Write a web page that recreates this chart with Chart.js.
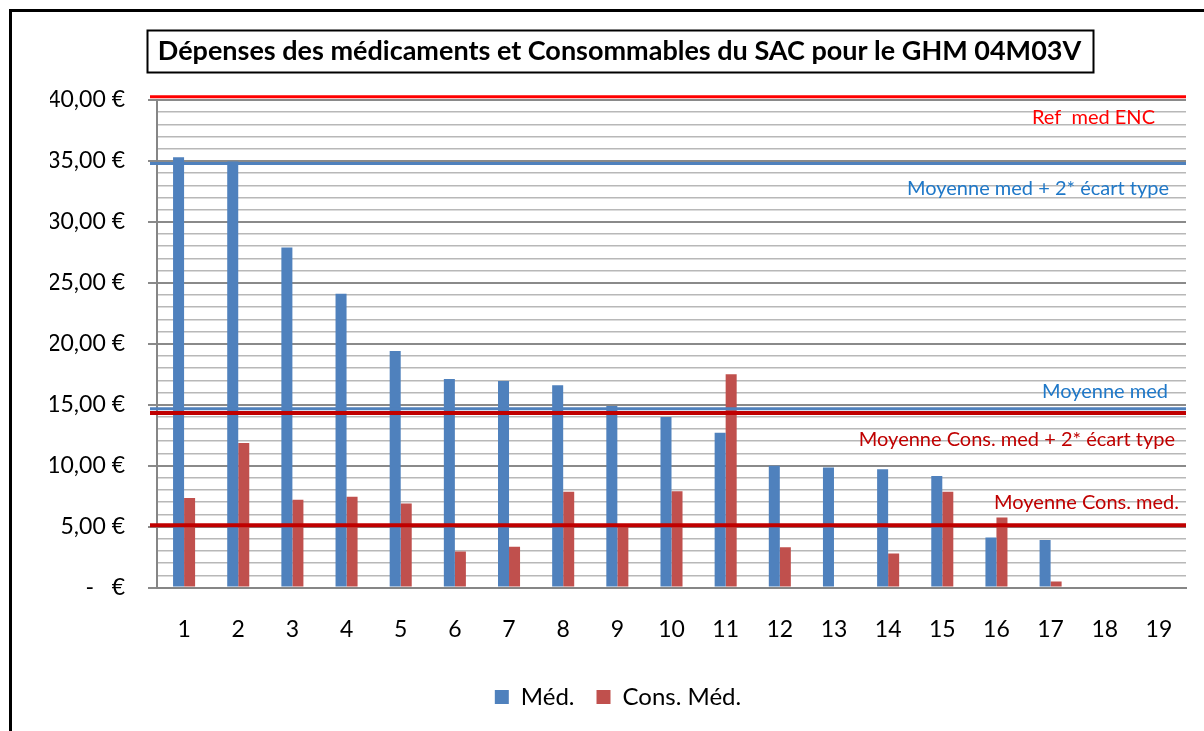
<!DOCTYPE html>
<html><head><meta charset="utf-8">
<script src="https://cdn.jsdelivr.net/npm/chart.js@4"></script>
<style>html,body{margin:0;padding:0;background:#fff}#wrap{position:relative;width:1204px;height:731px}</style>
</head><body><div id="wrap"><canvas id="c" width="1204" height="731"></canvas></div>
<script>
const chartTitle = 'Dépenses des médicaments et Consommables du SAC pour le GHM 04M03V';
const categories = ['1','2','3','4','5','6','7','8','9','10','11','12','13','14','15','16','17','18','19'];
const seriesNames = ['Méd.', 'Cons. Méd.'];
const medValues  = [35.3, 34.95, 27.9, 24.1, 19.4, 17.1, 16.95, 16.6, 14.9, 14.0, 12.7, 10.0, 9.85, 9.7, 9.15, 4.1, 3.9, null, null];
const consValues = [7.35, 11.85, 7.2, 7.45, 6.9, 2.95, 3.35, 7.85, 5.0, 7.9, 17.5, 3.3, 0, 2.8, 7.85, 5.75, 0.5, null, null];
const yTickLabels = ['-   €', '5,00 €', '10,00 €', '15,00 €', '20,00 €', '25,00 €', '30,00 €', '35,00 €', '40,00 €'];
const refLineValues = [40.27, 34.8, 14.67, 14.31, 5.1];
const refLineLabels = ['Ref  med ENC', 'Moyenne med + 2* écart type', 'Moyenne med', 'Moyenne Cons. med + 2* écart type', 'Moyenne Cons. med.'];

// styles (not data)
const refStyles = [
  {line:'#FF0000', w:3, text:'#FF0000', dy:21, rightInset:31},
  {line:'#4F81BD', w:3, text:'#1F78C8', dy:25, rightInset:17},
  {line:'#4F81BD', w:3, text:'#1F78C8', dy:-17, rightInset:18},
  {line:'#C00000', w:4, text:'#C00000', dy:26, rightInset:11},
  {line:'#C00000', w:4, text:'#C00000', dy:-23, rightInset:7}
];

Chart.defaults.font.family = 'Lato, "Open Sans", sans-serif';
Chart.defaults.color = '#000';

const decorPlugin = {
  id: 'decor',
  afterDatasetsDraw(chart) {
    const {ctx, chartArea, scales} = chart;
    const y = scales.y;
    ctx.save();
    refLineValues.forEach((v, i) => {
      const s = refStyles[i];
      const py = y.getPixelForValue(v);
      ctx.strokeStyle = s.line;
      ctx.lineWidth = s.w;
      ctx.beginPath();
      ctx.moveTo(chartArea.left - 7, py);
      ctx.lineTo(chartArea.right, py);
      ctx.stroke();
    });
    ctx.font = '20px Lato, "Open Sans", sans-serif';
    ctx.textAlign = 'right';
    ctx.textBaseline = 'middle';
    refLineValues.forEach((v, i) => {
      const s = refStyles[i];
      const py = y.getPixelForValue(v);
      ctx.fillStyle = s.text;
      ctx.fillText(refLineLabels[i], chartArea.right - s.rightInset, py + s.dy);
    });
    ctx.restore();
  },
  afterDraw(chart) {
    const {ctx} = chart;
    ctx.save();
    ctx.strokeStyle = '#000';
    ctx.lineWidth = 3;
    ctx.beginPath();
    ctx.moveTo(10.5, 731);
    ctx.lineTo(10.5, 10.5);
    ctx.lineTo(1204, 10.5);
    ctx.stroke();
    ctx.font = 'bold 27px Lato, "Open Sans", sans-serif';
    ctx.textAlign = 'center';
    ctx.textBaseline = 'middle';
    const cx = 619.5;
    const tw = ctx.measureText(chartTitle).width;
    ctx.fillStyle = '#000';
    ctx.fillText(chartTitle, cx, 51);
    ctx.lineWidth = 2;
    ctx.strokeRect(Math.round(cx - tw / 2 - 11) + 0.5, 30.5, Math.round(tw + 23), 42);
    ctx.restore();
  }
};

new Chart(document.getElementById('c'), {
  type: 'bar',
  data: {
    labels: categories,
    datasets: [
      {label: seriesNames[0], data: medValues, backgroundColor: '#4F81BD', categoryPercentage: 0.407, barPercentage: 1},
      {label: seriesNames[1], data: consValues, backgroundColor: '#C0504D', categoryPercentage: 0.407, barPercentage: 1}
    ]
  },
  options: {
    responsive: false,
    animation: false,
    devicePixelRatio: 1,
    layout: {padding: {left: 50, right: 18, top: 100, bottom: 12}},
    plugins: {
      title: {display: false},
      tooltip: {enabled: false},
      legend: {
        position: 'bottom',
        labels: {boxWidth: 14, boxHeight: 14, padding: 22, font: {size: 24}, color: '#000'}
      }
    },
    scales: {
      x: {
        afterFit(scale) { scale.height = 75.5; },
        grid: {display: false, drawTicks: false},
        border: {display: true, color: '#868686', width: 2},
        ticks: {font: {size: 23}, padding: 28.7, color: '#000', maxRotation: 0}
      },
      y: {
        min: 0, max: 40,
        afterFit(scale) { scale.width = 107; },
        grid: {
          color: c => (c.tick && c.tick.value % 5 === 0) ? '#8A8A8A' : '#B8B8B8',
          lineWidth: c => (c.tick && c.tick.value % 5 === 0) ? 2 : 1.6,
          tickColor: c => (c.tick && c.tick.value % 5 === 0) ? '#8A8A8A' : 'rgba(0,0,0,0)',
          tickLength: 9
        },
        border: {display: true, color: '#868686', width: 2},
        ticks: {
          stepSize: 1, autoSkip: false, padding: 23, font: {size: 23}, color: '#000',
          callback: v => (v % 5 === 0) ? yTickLabels[v / 5] : ''
        }
      }
    }
  },
  plugins: [decorPlugin]
});
</script></body></html>
